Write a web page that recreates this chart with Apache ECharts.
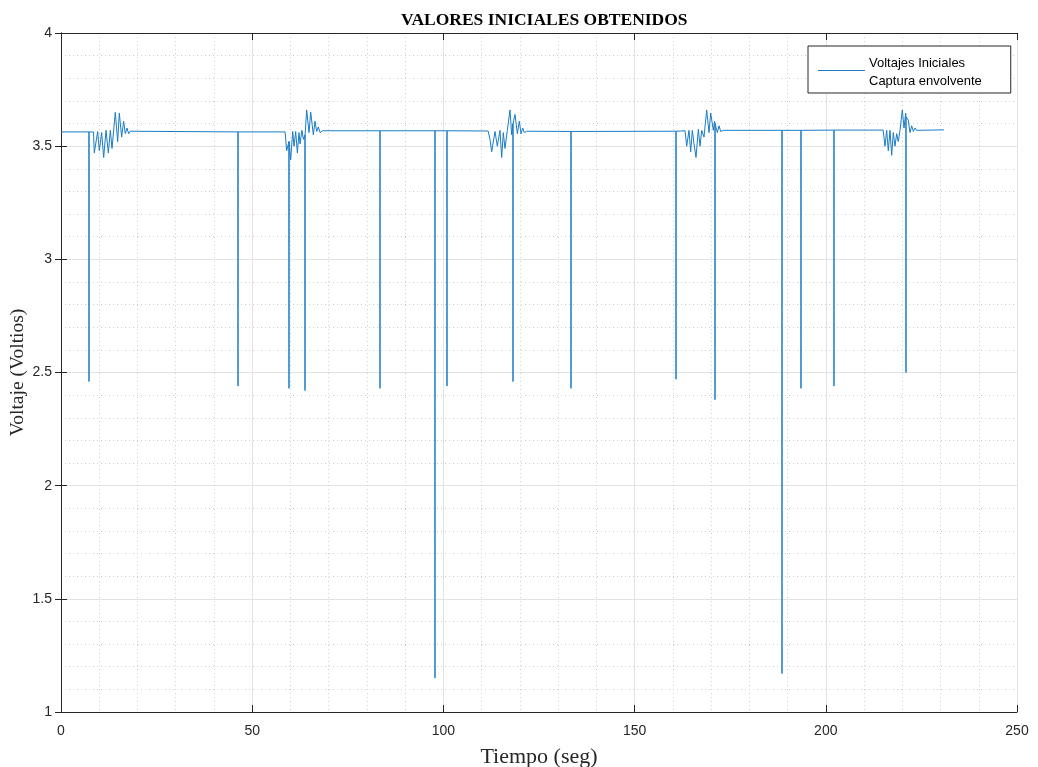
<!DOCTYPE html>
<html>
<head>
<meta charset="utf-8">
<script src="https://cdn.jsdelivr.net/npm/echarts@6/dist/echarts.min.js"></script>
<style>
html,body{margin:0;padding:0;background:#fff;}
#chart{width:1038px;height:767px;}
</style>
</head>
<body>
<div id="chart"></div>
<script>
// ---- data ----
const titleText = 'VALORES INICIALES OBTENIDOS';
const seriesNames = ['Voltajes Iniciales', 'Captura envolvente'];
const xTicks = [0, 50, 100, 150, 200, 250];
const yTicks = [1, 1.5, 2, 2.5, 3, 3.5, 4];

// flat baseline points (time s, volts)
const baseT = [0, 8.5, 18.4, 58.6, 68.4, 111.7, 122.0, 163.2, 173.2, 215.0, 224.0, 230.9];
const baseV = [3.563, 3.563, 3.565, 3.563, 3.568, 3.567, 3.565, 3.568, 3.570, 3.571, 3.572, 3.572];

// single-sample drop-outs
const spikeT    = [7.32, 46.29, 59.62, 63.81, 83.42, 97.8, 100.94, 118.2, 133.37, 160.83, 171.03, 188.55, 193.51, 202.14, 220.97];
const spikeMin  = [2.46, 2.44, 2.43, 2.42, 2.43, 1.15, 2.44, 2.46, 2.43, 2.47, 2.38, 1.17, 2.43, 2.44, 2.50];
const spikeBase = [3.563, 3.563, 3.52, 3.55, 3.568, 3.568, 3.568, 3.60, 3.565, 3.566, 3.60, 3.570, 3.570, 3.571, 3.63];

// oscillation bursts
const burst1T = [8.71, 9.59, 10.02, 10.64, 11.16, 11.77, 12.38, 12.9, 13.34, 14.2, 14.82, 15.25, 15.86, 16.38, 16.82, 17.26, 17.7, 18.13];
const burst1V = [3.47, 3.565, 3.48, 3.56, 3.45, 3.57, 3.47, 3.57, 3.49, 3.65, 3.52, 3.646, 3.54, 3.61, 3.555, 3.58, 3.555, 3.566];
const burst2T = [59.01, 60.07, 60.59, 60.94, 61.37, 61.81, 62.24, 62.51, 63.0, 63.4, 64.25, 64.86, 65.3, 65.99, 66.43, 66.87, 67.3, 67.74, 68.18];
const burst2V = [3.48, 3.44, 3.565, 3.50, 3.565, 3.47, 3.56, 3.51, 3.57, 3.53, 3.66, 3.56, 3.65, 3.55, 3.61, 3.565, 3.585, 3.56, 3.567];
const burst3T = [112.18, 112.62, 113.49, 114.1, 114.8, 115.24, 115.67, 116.11, 116.72, 117.42, 117.86, 118.73, 119.34, 119.86, 120.3, 120.74, 121.17, 121.79];
const burst3V = [3.53, 3.475, 3.565, 3.50, 3.57, 3.45, 3.56, 3.49, 3.57, 3.66, 3.55, 3.64, 3.555, 3.61, 3.555, 3.58, 3.56, 3.566];
const burst4T = [163.62, 164.23, 164.67, 165.1, 165.54, 166.06, 166.67, 167.11, 167.55, 168.15, 168.85, 169.46, 169.9, 170.59, 170.9, 171.64, 172.08, 172.52, 172.94];
const burst4V = [3.50, 3.57, 3.475, 3.57, 3.51, 3.45, 3.575, 3.50, 3.57, 3.54, 3.66, 3.56, 3.646, 3.57, 3.61, 3.56, 3.59, 3.565, 3.57];
const burst5T = [215.48, 215.92, 216.34, 216.79, 217.23, 217.65, 218.09, 218.54, 218.96, 219.4, 220.01, 220.45, 220.89, 221.57, 222.02, 222.46, 222.89, 223.33, 223.77];
const burst5V = [3.50, 3.57, 3.48, 3.57, 3.46, 3.56, 3.50, 3.555, 3.52, 3.57, 3.66, 3.58, 3.646, 3.615, 3.56, 3.59, 3.565, 3.58, 3.57];

// ---- build the line table ----
const pts = [];
baseT.forEach((t, i) => pts.push([t, baseV[i]]));
[[burst1T, burst1V], [burst2T, burst2V], [burst3T, burst3V], [burst4T, burst4V], [burst5T, burst5V]]
  .forEach(([T, V]) => T.forEach((t, i) => pts.push([t, V[i]])));
spikeT.forEach((t, i) => {
  pts.push([t - 0.02, spikeBase[i]]);
  pts.push([t, spikeMin[i]]);
  pts.push([t + 0.02, spikeBase[i]]);
});
pts.sort((a, b) => a[0] - b[0]);

const txt = '#262626';
const lineColor = '#1a7cc6';
const sans = 'Liberation Sans, Arial, sans-serif';
const serif = 'Liberation Serif, Times New Roman, serif';
const majorGrid = { show: true, lineStyle: { color: '#e3e3e3', width: 1, type: 'solid' } };
const minorGrid = { show: true, lineStyle: { color: '#cfcfcf', width: 1, type: [1, 3] } };

const chart = echarts.init(document.getElementById('chart'), null, { renderer: 'canvas' });
chart.setOption({
  backgroundColor: '#ffffff',
  animation: false,
  title: {
    text: titleText, left: 396, top: 6,
    textStyle: { fontFamily: serif, fontWeight: 'bold', fontSize: 17.5, color: '#000' }
  },
  grid: { left: 61, right: 21, top: 33, bottom: 55, containLabel: false, outerBoundsMode: 'none' },
  legend: {
    orient: 'vertical', left: 808, top: 46,
    backgroundColor: '#fff', borderColor: txt, borderWidth: 1, borderRadius: 0,
    padding: [10, 29, 5, 10], itemGap: 5, itemWidth: 46, itemHeight: 14,
    textStyle: { fontFamily: sans, fontSize: 13, color: '#000' },
    data: [
      { name: seriesNames[0], icon: 'none' },
      { name: seriesNames[1], icon: 'none' }
    ]
  },
  // legend sample line for the first entry (sits between the two rows, as in the reference)
  graphic: [{
    type: 'line', z: 100, silent: true,
    shape: { x1: 818, y1: 70.5, x2: 865, y2: 70.5 },
    style: { stroke: lineColor, lineWidth: 1.2 }
  }],
  xAxis: [{
    type: 'value', min: xTicks[0], max: xTicks[xTicks.length - 1], interval: 50,
    name: 'Tiempo (seg)', nameLocation: 'middle', nameGap: 34,
    nameTextStyle: { fontFamily: serif, fontSize: 22, color: txt },
    axisLine: { show: true, lineStyle: { color: txt, width: 1 } },
    axisTick: { show: true, inside: true, length: 7, lineStyle: { color: txt } },
    axisLabel: { fontFamily: sans, fontSize: 14, color: txt, margin: 12 },
    splitLine: majorGrid,
    minorTick: { show: false, splitNumber: 5 },
    minorSplitLine: minorGrid
  }, {
    type: 'value', position: 'top', min: xTicks[0], max: xTicks[xTicks.length - 1], interval: 50,
    axisLine: { show: true, lineStyle: { color: txt, width: 1 } },
    axisTick: { show: true, inside: true, length: 7, lineStyle: { color: txt } },
    axisLabel: { show: false }, splitLine: { show: false }
  }],
  yAxis: [{
    type: 'value', min: yTicks[0], max: yTicks[yTicks.length - 1], interval: 0.5,
    name: 'Voltaje (Voltios)', nameLocation: 'middle', nameGap: 33, nameMoveOverlap: false,
    nameTextStyle: { fontFamily: serif, fontSize: 19.5, color: txt },
    axisLine: { show: true, lineStyle: { color: txt, width: 1 } },
    axisTick: { show: true, inside: true, length: 6, lineStyle: { color: txt } },
    axisLabel: { fontFamily: sans, fontSize: 14, color: txt, margin: 9 },
    splitLine: majorGrid,
    minorTick: { show: false, splitNumber: 5 },
    minorSplitLine: minorGrid
  }, {
    type: 'value', position: 'right', min: yTicks[0], max: yTicks[yTicks.length - 1], interval: 0.5,
    axisLine: { show: true, lineStyle: { color: txt, width: 1 } },
    axisTick: { show: true, inside: true, length: 6, lineStyle: { color: txt } },
    axisLabel: { show: false }, splitLine: { show: false }
  }],
  series: [{
    name: seriesNames[0], type: 'line', data: pts, showSymbol: false, symbol: 'none',
    lineStyle: { color: lineColor, width: 1 }, itemStyle: { color: lineColor },
    sampling: null, z: 3
  }, {
    name: seriesNames[1], type: 'line', data: [], showSymbol: false, symbol: 'none',
    lineStyle: { color: '#D95319', width: 1 }, itemStyle: { color: '#D95319' }
  }]
});
</script>
</body>
</html>
